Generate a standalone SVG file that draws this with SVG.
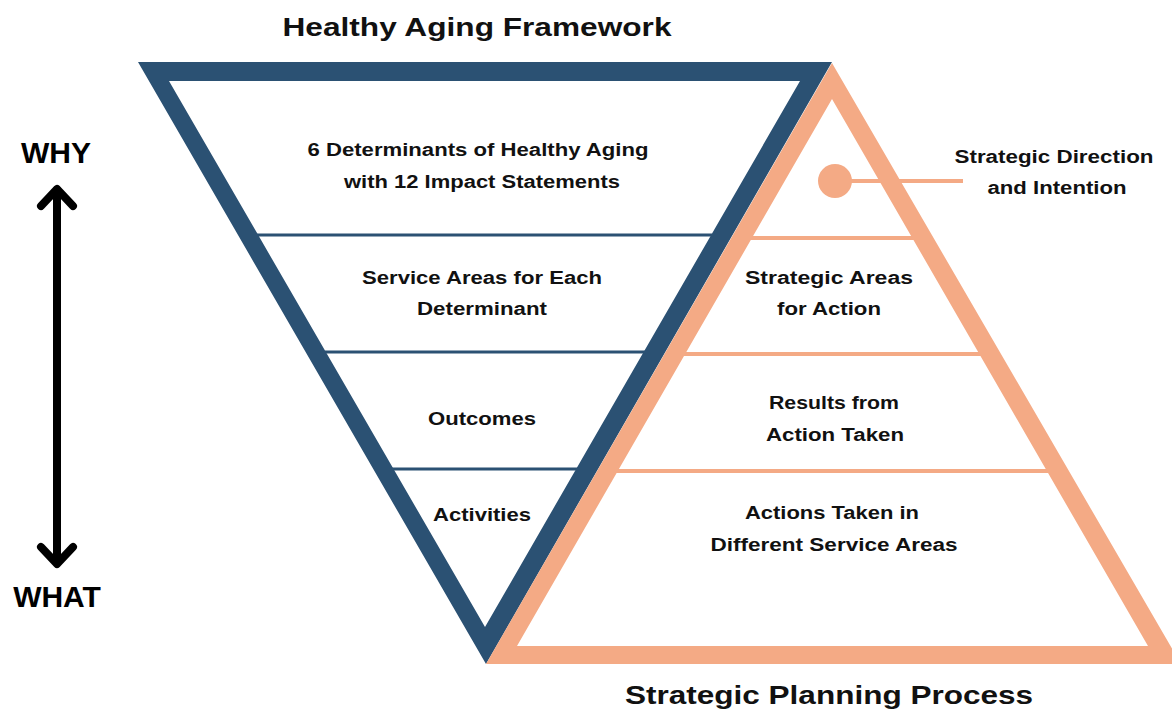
<svg xmlns="http://www.w3.org/2000/svg" width="1172" height="711" viewBox="0 0 1172 711">
<style>
text{font-family:"Liberation Sans",Arial,sans-serif;font-weight:bold;fill:#111;text-anchor:middle}
.title{font-size:25px}
.lbl{font-size:18px}
.side{font-size:30px;fill:#000}
.bl{stroke:#2b5173;stroke-width:3}
.ol{stroke:#f4aa85;stroke-width:4}
</style>
<rect width="1172" height="711" fill="#fff"/>
<g id="title-top"><text class="title" x="477" y="36" textLength="389" lengthAdjust="spacingAndGlyphs">Healthy Aging Framework</text></g>
<g id="blue-triangle">
<path fill="#2b5173" fill-rule="evenodd" d="M138,62 L832,62 L486,664 Z M169,81 L800,81 L485,627 Z"/>
</g>
<g id="orange-triangle">
<path fill="#f4aa85" fill-rule="evenodd" d="M832,63 L1181,664 L486,664 Z M832,99 L1148,646 L517,646 Z"/>
</g>
<g id="connectors">
<line class="bl" x1="257" y1="235" x2="712" y2="235"/>
<line class="bl" x1="325" y1="352" x2="645" y2="352"/>
<line class="bl" x1="392" y1="469" x2="578" y2="469"/>
<line class="ol" x1="750" y1="238" x2="914" y2="238"/>
<line class="ol" x1="683" y1="354" x2="981" y2="354"/>
<line class="ol" x1="616" y1="471" x2="1048" y2="471"/>
<line class="ol" x1="835" y1="181" x2="963" y2="181"/>
<g id="why-what-arrow" fill="none" stroke="#000" stroke-width="8" stroke-linecap="round" stroke-linejoin="round">
<line x1="57" y1="190" x2="57" y2="562"/>
<polyline points="41,206 57,189 73,206"/>
<polyline points="41,547 57,564 73,547"/>
</g>
</g>
<g id="dot"><circle cx="835" cy="181" r="17" fill="#f4aa85"/></g>
<g id="n-determinants">
<text class="lbl" x="478" y="156" textLength="341" lengthAdjust="spacingAndGlyphs">6 Determinants of Healthy Aging</text>
<text class="lbl" x="482" y="188" textLength="276" lengthAdjust="spacingAndGlyphs">with 12 Impact Statements</text>
</g>
<g id="n-service-areas">
<text class="lbl" x="482" y="284" textLength="240" lengthAdjust="spacingAndGlyphs">Service Areas for Each</text>
<text class="lbl" x="482" y="315" textLength="130" lengthAdjust="spacingAndGlyphs">Determinant</text>
</g>
<g id="n-outcomes"><text class="lbl" x="482" y="425" textLength="108" lengthAdjust="spacingAndGlyphs">Outcomes</text></g>
<g id="n-activities"><text class="lbl" x="482" y="521" textLength="98" lengthAdjust="spacingAndGlyphs">Activities</text></g>
<g id="n-strategic-direction">
<text class="lbl" x="1054" y="163" textLength="199" lengthAdjust="spacingAndGlyphs">Strategic Direction</text>
<text class="lbl" x="1057" y="194" textLength="139" lengthAdjust="spacingAndGlyphs">and Intention</text>
</g>
<g id="n-strategic-areas">
<text class="lbl" x="829" y="284" textLength="168" lengthAdjust="spacingAndGlyphs">Strategic Areas</text>
<text class="lbl" x="829" y="315" textLength="104" lengthAdjust="spacingAndGlyphs">for Action</text>
</g>
<g id="n-results">
<text class="lbl" x="834" y="409" textLength="130" lengthAdjust="spacingAndGlyphs">Results from</text>
<text class="lbl" x="835" y="441" textLength="138" lengthAdjust="spacingAndGlyphs">Action Taken</text>
</g>
<g id="n-actions">
<text class="lbl" x="832" y="519" textLength="174" lengthAdjust="spacingAndGlyphs">Actions Taken in</text>
<text class="lbl" x="834" y="551" textLength="247" lengthAdjust="spacingAndGlyphs">Different Service Areas</text>
</g>
<g id="title-bottom"><text class="title" x="829" y="704" textLength="408" lengthAdjust="spacingAndGlyphs">Strategic Planning Process</text></g>
<g id="why"><text class="side" x="56" y="163">WHY</text></g>
<g id="what"><text class="side" x="57" y="607">WHAT</text></g>
</svg>
